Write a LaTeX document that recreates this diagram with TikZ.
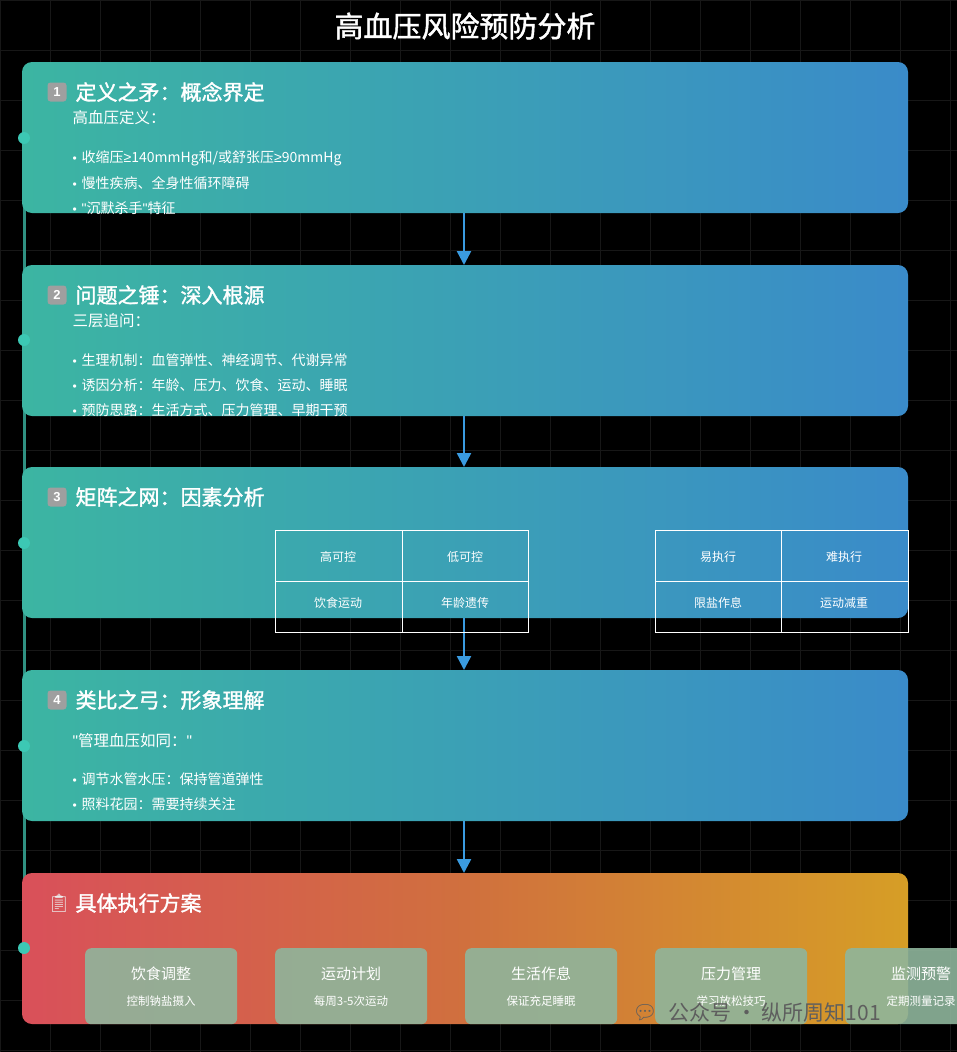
\documentclass[tikz,border=0pt]{standalone}
\usepackage{fontspec}
\setmainfont{Noto Sans CJK SC}
\newfontfamily\emo{Noto Emoji}
\newfontfamily\lat{Liberation Sans}
\newfontfamily\cjkb[FakeBold=1.5]{Noto Sans CJK SC}
\usetikzlibrary{arrows.meta,calc}
\definecolor{tealc}{HTML}{3CB5A2}
\definecolor{bluec}{HTML}{3A8BC9}
\definecolor{redc}{HTML}{D9505A}
\definecolor{midc}{HTML}{D0703E}
\definecolor{orgc}{HTML}{D69E26}
\definecolor{arr}{HTML}{3A9BE0}
\definecolor{dotc}{HTML}{3CC8B4}
\definecolor{planc}{HTML}{8FB59C}
\definecolor{wmc}{HTML}{5E5E5E}
\newcommand{\bl}{{\lat\fontsize{12}{12}\selectfont •}\hspace{5pt}}
\newcommand{\qt}{{\lat "}}
\newcommand{\mygeq}{{\lat ≥}}
\tikzset{x=1pt,y=-1pt,
 card/.style={rounded corners=10pt,left color=tealc,right color=bluec,draw=none},
 head/.style={anchor=west,text=white,font=\cjkb\fontsize{21}{23}\selectfont},
 sub/.style={anchor=west,text=white,font=\fontsize{15.5}{17}\selectfont},
 bul/.style={anchor=west,text=white,font=\fontsize{14}{15}\selectfont},
 key/.style={fill=gray!75,rounded corners=3pt,minimum size=19pt,inner sep=0pt,text=white,font=\lat\bfseries\fontsize{13}{13}\selectfont,anchor=center},
 tcell/.style={text=white,font=\fontsize{12}{14}\selectfont},
 dotn/.style={circle,fill=dotc,inner sep=0pt,minimum size=12pt},
 conn/.style={arr,line width=2.5pt,-{Triangle[length=14pt,width=14pt]}},
 plan/.style={rounded corners=6pt,fill=planc,fill opacity=0.9,minimum width=152pt,minimum height=76pt,anchor=north west,inner sep=0pt}
}
\begin{document}
\begin{tikzpicture}
\fill[black] (0,0) rectangle (957,1052);
\useasboundingbox (0,0) rectangle (957,1052);
\draw[white!9!black,line width=0.6pt] (0,0) grid[step=50pt] (957,1052);
\node[text=white,font=\cjkb\fontsize{29}{31}\selectfont] (title) at (465,26) {高血压风险预防分析};
% timeline
\draw[tealc!80!black,line width=3pt] (24,130) -- (24,1000);
% cards
\path[card] (22,62) rectangle (908,213);
\path[card] (22,265) rectangle (908,416);
\path[card] (22,467) rectangle (908,618);
\path[card] (22,670) rectangle (908,821);
\path[rounded corners=10pt,left color=redc,right color=orgc,middle color=midc] (22,873) rectangle (908,1024);
\coordinate (b1) at (464,213); \coordinate (t2) at (464,265);
\coordinate (b2) at (464,416); \coordinate (t3) at (464,467);
\coordinate (b3) at (464,618); \coordinate (t4) at (464,670);
\coordinate (b4) at (464,821); \coordinate (t5) at (464,873);
\draw[conn] (b1) -- (t2); \draw[conn] (b2) -- (t3);
\draw[conn] (b3) -- (t4); \draw[conn] (b4) -- (t5);
\foreach \y/\n in {138/d1,340/d2,543/d3,746/d4,948/d5} \node[dotn] (\n) at (24,\y) {};
% card 1
\node[key] (k1) at (57,92) {1};
\node[head] (h1) at (72,92) {定义之矛：概念界定};
\node[sub] (s1) at (69,118) {高血压定义：};
\node[bul] (p11) at (69,158) {\bl 收缩压\mygeq 140mmHg和/或舒张压\mygeq 90mmHg};
\node[bul] (p12) at (69,183) {\bl 慢性疾病、全身性循环障碍};
\node[bul] (p13) at (69,208) {\bl \qt 沉默杀手\qt 特征};
% card 2
\node[key] (k2) at (57,295) {2};
\node[head] (h2) at (72,295) {问题之锤：深入根源};
\node[sub] (s2) at (69,321) {三层追问：};
\node[bul] (p21) at (69,360) {\bl 生理机制：血管弹性、神经调节、代谢异常};
\node[bul] (p22) at (69,385) {\bl 诱因分析：年龄、压力、饮食、运动、睡眠};
\node[bul] (p23) at (69,410) {\bl 预防思路：生活方式、压力管理、早期干预};
% card 3
\node[key] (k3) at (57,497) {3};
\node[head] (h3) at (72,497) {矩阵之网：因素分析};
\draw[white,line width=0.9pt] (275,530) rectangle (528,632) (275,581) -- (528,581) (402,530) -- (402,632);
\draw[white,line width=0.9pt] (655,530) rectangle (908,632) (655,581) -- (908,581) (781,530) -- (781,632);
\node[tcell] (c1) at (338,557) {高可控};
\node[tcell] (c2) at (465,557) {低可控};
\node[tcell] (c3) at (338,603) {饮食运动};
\node[tcell] (c4) at (465,603) {年龄遗传};
\node[tcell] (c5) at (718,557) {易执行};
\node[tcell] (c6) at (844,557) {难执行};
\node[tcell] (c7) at (718,603) {限盐作息};
\node[tcell] (c8) at (844,603) {运动减重};
% card 4
\node[key] (k4) at (57,700) {4};
\node[head] (h4) at (72,700) {类比之弓：形象理解};
\node[sub] (s4) at (69,741) {\qt 管理血压如同：\qt};
\node[bul] (p41) at (69,779) {\bl 调节水管水压：保持管道弹性};
\node[bul] (p42) at (69,804) {\bl 照料花园：需要持续关注};
% card 5
\node[anchor=west,text=white!85!gray,font=\emo\fontsize{18}{18}\selectfont] (e5) at (44,903) {📋};
\node[head] (h5) at (72,903) {具体执行方案};
\foreach \x/\n/\a/\b in {85/q1/饮食调整/控制钠盐摄入,275/q2/运动计划/每周3-5次运动,465/q3/生活作息/保证充足睡眠,655/q4/压力管理/学习放松技巧,845/q5/监测预警/定期测量记录}{
 \node[plan] (\n) at (\x,948) {};
 \node[text=white,font=\fontsize{15}{17}\selectfont] (\n a) at ($(\x,948)+(76,26)$) {\a};
 \node[text=white,font=\fontsize{11.5}{13}\selectfont] (\n b) at ($(\x,948)+(76,53)$) {\b};
}
\node[anchor=west,text=wmc,font=\fontsize{21}{23}\selectfont] (wm) at (665,1013) {公众号 · 纵所周知101};
\node[text=wmc,font=\emo\fontsize{20}{20}\selectfont] (wi) at (645,1013) {💬};
\end{tikzpicture}
\end{document}
